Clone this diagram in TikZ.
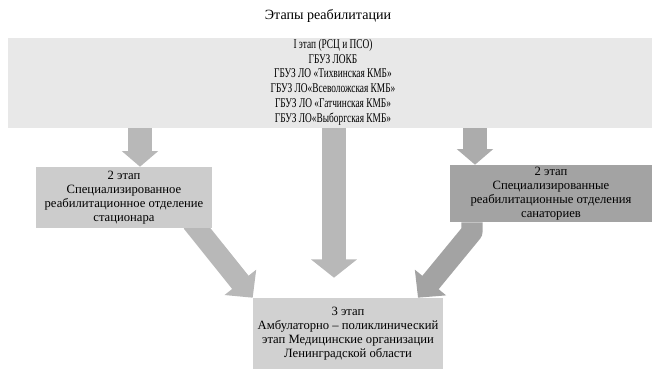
\documentclass[tikz,border=0pt]{standalone}
\usepackage{fontspec}
\setmainfont{Liberation Serif}
\newfontfamily\narrowfont[FakeStretch=0.7]{Liberation Serif}
\usetikzlibrary{arrows.meta,backgrounds}
\definecolor{topgray}{gray}{.91}
\definecolor{leftgray}{gray}{.80}
\definecolor{rightgray}{gray}{.64}
\definecolor{botgray}{gray}{.82}
\definecolor{arrgray}{gray}{.72}

\begin{document}
\begin{tikzpicture}[x=.025cm,y=-.025cm,
  stagebox/.style={inner sep=0pt,align=center,font=\fontsize{9}{10}\selectfont},
  fatarrow/.style={line width=17pt,-{Triangle[length=13pt,width=32pt]}}]
\useasboundingbox (0,0) rectangle (660,371);
\node (title) at (328,16) {\fontsize{10}{11}\selectfont Этапы реабилитации};
% Первый этап: широкий блок сверху
\node[stagebox,fill=topgray,minimum width=16.1cm,minimum height=2.25cm] (top) at (330,83) {};
\node[align=center,font=\narrowfont\fontsize{9.5}{10.5}\selectfont] (toptext) at (333,82)
  {I этап (РСЦ и ПСО)\\ГБУЗ ЛОКБ\\ГБУЗ ЛО «Тихвинская КМБ»\\ГБУЗ ЛО«Всеволожская КМБ»\\ГБУЗ ЛО «Гатчинская КМБ»\\ГБУЗ ЛО«Выборгская КМБ»};
% Второй этап: стационар и санатории
\node[stagebox,fill=leftgray,minimum width=4.4cm,minimum height=1.525cm] (left) at (124,197.5)
  {2 этап\\Специализированное\\реабилитационное отделение\\стационара};
\node[stagebox,fill=rightgray,minimum width=5.05cm,minimum height=1.425cm] (right) at (551,193.5)
  {2 этап\\Специализированные\\реабилитационные отделения\\санаториев};
% Третий этап
\node[stagebox,fill=botgray,minimum width=4.75cm,minimum height=1.775cm] (bottom) at (348,333.5)
  {3 этап\\Амбулаторно – поликлинический\\этап Медицинские организации\\Ленинградской области};
\begin{pgfonlayer}{background}
\draw[fatarrow,draw=leftgray!90!black,-{Triangle[length=11pt,width=25pt]}]
  (140,0 |- top.south) -- (140,0 |- left.north);
\draw[fatarrow,draw=rightgray!90!white,-{Triangle[length=11pt,width=25pt]}]
  (475,0 |- top.south) -- (475,0 |- right.north);
\draw[fatarrow,draw=arrgray,shorten >=.5cm] (334,0 |- top.south) -- (334,0 |- bottom.north);
\draw[fatarrow,draw=arrgray,line width=15pt,-{Triangle[length=14pt,width=28pt]}]
  (192,222) -- (bottom.north west);
\draw[fatarrow,draw=rightgray,line width=15pt,line join=round,-{Triangle[length=14pt,width=28pt]}]
  (472,0 |- right.south) -- (472,232) -- (418,0 |- bottom.north);
\end{pgfonlayer}
\end{tikzpicture}
\end{document}
